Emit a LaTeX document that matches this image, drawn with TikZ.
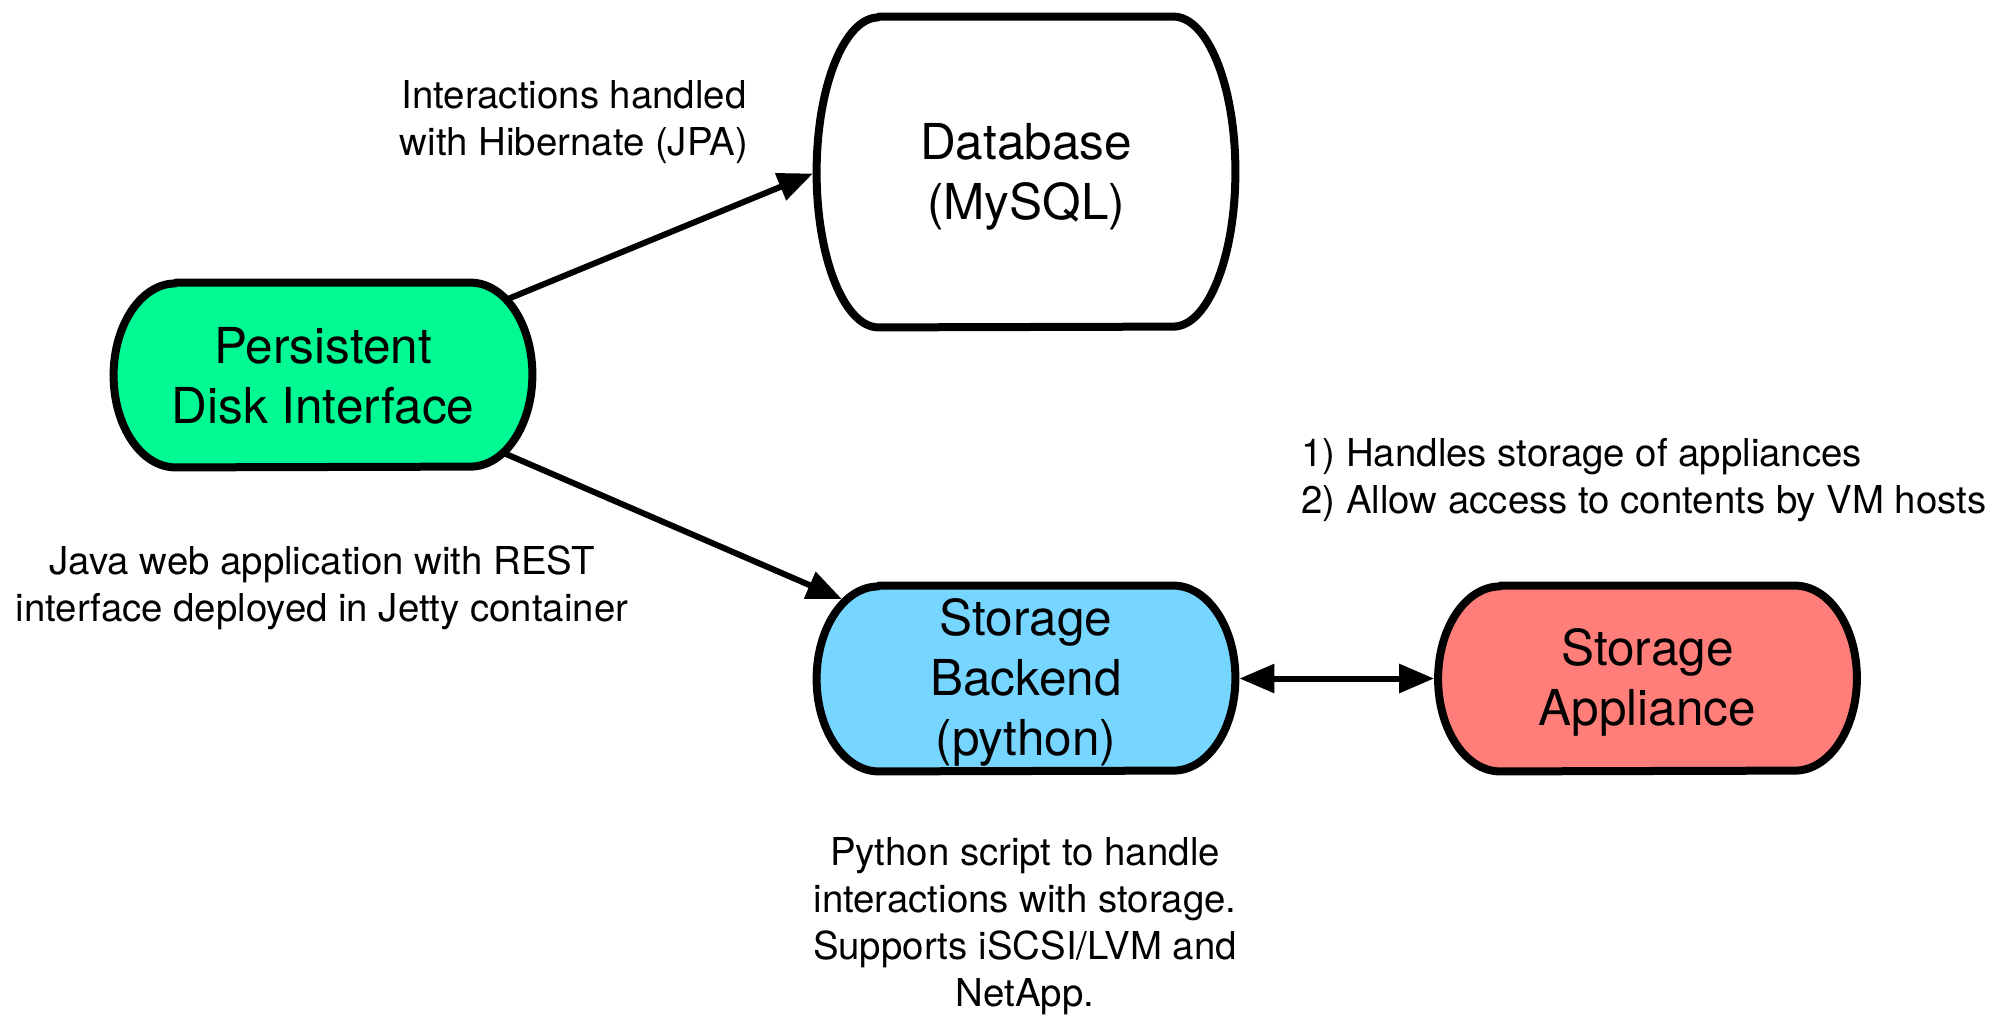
\documentclass[tikz,border=0pt]{standalone}
\usepackage{fontspec}
\setmainfont{TeX Gyre Heros}
\usetikzlibrary{arrows.meta,calc,intersections}
\definecolor{pdigreen}{RGB}{0,249,146}
\definecolor{beblue}{RGB}{118,214,255}
\definecolor{apsalmon}{RGB}{255,126,121}
\pgfdeclarelayer{arrowlayer}
\pgfdeclarelayer{shapelayer}
\pgfsetlayers{arrowlayer,shapelayer,main}
\newcommand\bigfont{\fontsize{24.75pt}{30pt}\selectfont}
\newcommand\smallfont{\fontsize{19.2pt}{23.5pt}\selectfont}
% #1 node name, #2 fill colour, #3 half height
\newcommand\barrelpath[3]{%
  \path[shapeline, fill=#2, name path global=#1shape]
    ($(#1.north west)+(31pt,0)$) -- ($(#1.north east)+(-31pt,0)$)
    arc[start angle=90, end angle=-90, x radius=31pt, y radius=#3]
    -- ($(#1.south west)+(31pt,0)$)
    arc[start angle=270, end angle=90, x radius=31pt, y radius=#3]
    -- cycle;}
\begin{document}
\begin{tikzpicture}[x=0.5pt,y=-0.5pt,
  box/.style={minimum width=209pt, inner sep=0pt},
  boxtext/.style={inner sep=0pt, align=center, font=\bigfont},
  note/.style={inner sep=0pt, align=center, font=\smallfont},
  shapeline/.style={draw=black, line width=4pt, line join=round},
  tip/.style={Triangle[length=17.5pt,width=14pt]},
  conn/.style={draw=black, line width=3pt, -{Triangle[length=17.5pt,width=14pt]}},
  dconn/.style={draw=black, line width=3pt, {Triangle[length=17.5pt,width=14pt]}-{Triangle[length=17.5pt,width=14pt]}},
]
\useasboundingbox (0,0) rectangle (2013,1014);

% nodes
\node[box, minimum height=92pt,
  label={[boxtext, name=pditext, yshift=-0.5pt]center:{Persistent\\Disk Interface}}] (pdi) at (323,375) {};
\node[box, minimum height=155pt,
  label={[boxtext, name=dbtext, yshift=-2.5pt]center:{Database\\(MySQL)}}] (db) at (1026,172) {};
\node[box, minimum height=92.5pt,
  label={[boxtext, name=betext, yshift=-2pt]center:{Storage\\Backend\\(python)}}] (be) at (1026,678.5) {};
\node[box, minimum height=92.5pt,
  label={[boxtext, name=aptext, yshift=-2pt]center:{Storage\\Appliance}}] (ap) at (1647.5,678.5) {};

% shapes
\begin{pgfonlayer}{shapelayer}
  \barrelpath{pdi}{pdigreen}{46pt}
  \barrelpath{db}{white}{77.5pt}
  \barrelpath{be}{beblue}{46.25pt}
  \barrelpath{ap}{apsalmon}{46.25pt}
\end{pgfonlayer}

% connectors
\path[name path=pdibe] (pdi.center) -- (be.center);
\path[name intersections={of=pdibe and beshape, by=pbe}];
\begin{pgfonlayer}{arrowlayer}
  \draw[conn, shorten >=2pt] (pdi.center) -- (db.west);
  \draw[conn, shorten >=2pt] (pdi.center) -- (pbe);
  \draw[dconn, shorten >=2pt, shorten <=2pt] (be.east) -- (ap.west);
\end{pgfonlayer}

% notes
\node[note] (n1) at (574,122) {Interactions handled\\with Hibernate (JPA)};
\node[note] (n2) at (322,588) {Java web application with REST\\interface deployed in Jetty container};
\node[note, align=left, anchor=west] (n3) at (1301,480) {1) Handles storage of appliances\\2) Allow access to contents by VM hosts};
\node[note] (n4) at (1025,926) {Python script to handle\\interactions with storage.\\Supports iSCSI/LVM and\\NetApp.};
\end{tikzpicture}
\end{document}
